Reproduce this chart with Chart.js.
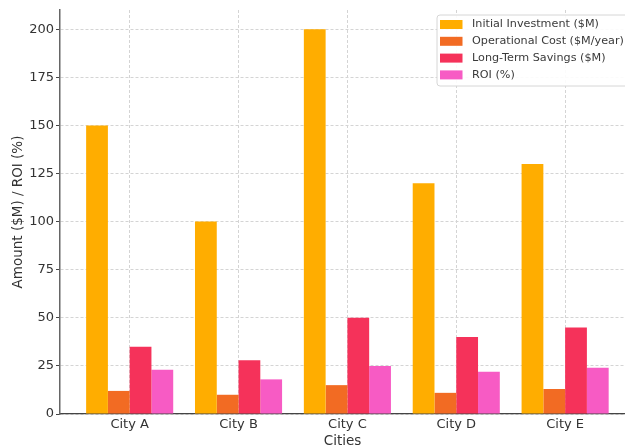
<!DOCTYPE html>
<html>
<head>
<meta charset="utf-8">
<script src="https://cdn.jsdelivr.net/npm/chart.js@4/dist/chart.umd.min.js"></script>
<style>
  html, body { margin: 0; padding: 0; background: #fff; overflow: hidden; }
  #wrap { width: 625px; height: 448px; }
</style>
</head>
<body>
<div id="wrap"><canvas id="chart" width="625" height="448"></canvas></div>
<script>
// Cities compared
const cities = ['City A', 'City B', 'City C', 'City D', 'City E'];

// Series values per city
const initialInvestment = [150, 100, 200, 120, 130];   // $M
const operationalCost   = [12, 10, 15, 11, 13];         // $M/year
const longTermSavings   = [35, 28, 50, 40, 45];         // $M
const roi               = [23, 18, 25, 22, 24];         // %

// Series names and colours
const seriesNames = ['Initial Investment ($M)', 'Operational Cost ($M/year)', 'Long-Term Savings ($M)', 'ROI (%)'];
const seriesColors = ['#FFAD00', '#F26B23', '#F5325A', '#F75BC4'];

// Y axis tick step and range
const yMax = 210;
const yStep = 25;

const FONT = '"DejaVu Sans", "Liberation Sans", sans-serif';

const seriesValues = [initialInvestment, operationalCost, longTermSavings, roi];
const datasets = seriesValues.map((vals, s) => ({
  label: seriesNames[s],
  data: vals.map((v, i) => ({ x: i, y: v })),
  backgroundColor: seriesColors[s],
  borderWidth: 0,
  categoryPercentage: 0.8,
  barPercentage: 1.0
}));

// Framed legend drawn inside the plot, top right
const boxLegend = {
  id: 'boxLegend',
  afterDraw(chart) {
    const ctx = chart.ctx;
    const x0 = 437, y0 = 15, w = 200, h = 71;
    ctx.save();
    ctx.beginPath();
    ctx.roundRect(x0, y0, w, h, 3);
    ctx.fillStyle = 'rgba(255,255,255,0.9)';
    ctx.fill();
    ctx.strokeStyle = '#d6d6d6';
    ctx.lineWidth = 1;
    ctx.stroke();
    ctx.font = '11.2px ' + FONT;
    ctx.textBaseline = 'middle';
    ctx.textAlign = 'left';
    chart.data.datasets.forEach((ds, i) => {
      const cy = 24.5 + i * 16.8;
      ctx.fillStyle = ds.backgroundColor;
      ctx.fillRect(440, cy - 4.5, 22.5, 9);
      ctx.fillStyle = '#3a3a3a';
      ctx.fillText(ds.label, 472, cy);
    });
    ctx.restore();
  }
};

new Chart(document.getElementById('chart'), {
  type: 'bar',
  data: { datasets },
  options: {
    responsive: false,
    animation: false,
    devicePixelRatio: 1,
    layout: { padding: { top: 10, right: 0, bottom: 0, left: 0 } },
    plugins: {
      legend: { display: false },
      tooltip: { enabled: false }
    },
    scales: {
      x: {
        type: 'linear',
        min: -0.64,
        max: 4.55,
        offset: false,
        afterFit(scale) { scale.height = 34; },
        ticks: {
          stepSize: 1,
          includeBounds: false,
          autoSkip: false,
          maxRotation: 0,
          padding: 0,
          color: '#333',
          font: { family: FONT, size: 13, lineHeight: 1 },
          callback: (v) => (Number.isInteger(v) && cities[v] !== undefined) ? cities[v] : ''
        },
        grid: {
          offset: false,
          color: '#d4d4d4',
          lineWidth: 1,
          tickLength: 4,
          tickColor: 'rgba(0,0,0,0)',
          tickWidth: 1,
          tickBorderDash: []
        },
        border: { display: true, color: '#444', width: 1.3, dash: [3, 2] },
        title: {
          display: true,
          text: 'Cities',
          color: '#333',
          font: { family: FONT, size: 13.5, lineHeight: 1 },
          padding: { top: 0, bottom: 0 }
        }
      },
      y: {
        min: 0,
        max: yMax,
        afterFit(scale) { scale.width = 60; },
        ticks: {
          stepSize: yStep,
          includeBounds: false,
          padding: 2,
          color: '#333',
          font: { family: FONT, size: 13 }
        },
        grid: {
          color: '#d4d4d4',
          lineWidth: 1,
          tickLength: 4,
          tickColor: '#444',
          tickWidth: 1,
          tickBorderDash: []
        },
        border: { display: true, color: '#666', width: 1.5, dash: [3, 2] },
        title: {
          display: true,
          text: 'Amount ($M) / ROI (%)',
          color: '#333',
          font: { family: FONT, size: 13.5, lineHeight: 1.2 },
          padding: { top: 10, bottom: 0 }
        }
      }
    }
  },
  plugins: [boxLegend]
});
</script>
</body>
</html>
